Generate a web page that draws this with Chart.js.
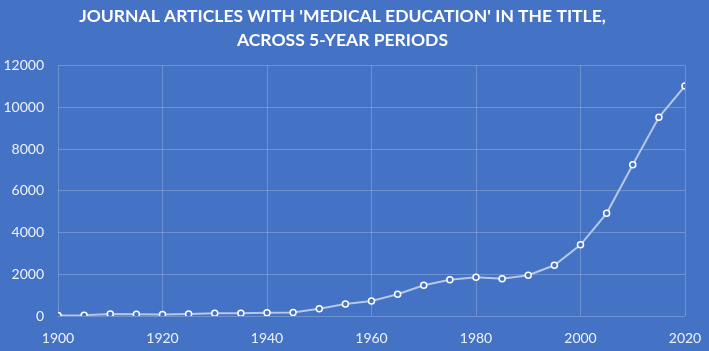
<!DOCTYPE html>
<html>
<head>
<meta charset="utf-8">
<script src="https://cdn.jsdelivr.net/npm/chart.js@4.4.1/dist/chart.umd.min.js"></script>
<style>
  html, body { margin: 0; padding: 0; background: #4472c4; }
  #wrap { width: 709px; height: 351px; }
</style>
</head>
<body>
<div id="wrap"><canvas id="chart" width="709" height="351"></canvas></div>
<script>
// years at 5-year steps and article counts
const years = [1900, 1905, 1910, 1915, 1920, 1925, 1930, 1935, 1940, 1945, 1950, 1955, 1960,
  1965, 1970, 1975, 1980, 1985, 1990, 1995, 2000, 2005, 2010, 2015, 2020];
const articles = [20, 40, 100, 80, 70, 90, 130, 130, 150, 170, 350, 570, 720,
  1040, 1470, 1740, 1860, 1780, 1950, 2430, 3410, 4920, 7250, 9520, 11020];
const titleLines = ["JOURNAL ARTICLES WITH 'MEDICAL EDUCATION' IN THE TITLE,", "ACROSS 5-YEAR PERIODS"];

const BG = "#4472c4";
const TEXT = "#eef2fa";
const GRID = "rgba(255,255,255,0.22)";

// fill the background of the canvas
const bgPlugin = {
  id: "bg",
  beforeDraw(chart) {
    const ctx = chart.ctx;
    ctx.save();
    ctx.fillStyle = BG;
    ctx.fillRect(0, 0, chart.width, chart.height);
    ctx.restore();
  }
};

new Chart(document.getElementById("chart"), {
  type: "line",
  data: {
    datasets: [{
      data: years.map((y, i) => ({ x: y, y: articles[i] })),
      borderColor: "#b4c7e7",
      borderWidth: 2,
      pointRadius: 3,
      pointBorderWidth: 1.5,
      pointBorderColor: "#ffffff",
      pointBackgroundColor: BG,
      tension: 0
    }]
  },
  options: {
    responsive: false,
    animation: false,
    layout: { padding: { left: 0, right: 24, top: 0, bottom: 0 } },
    plugins: {
      legend: { display: false },
      tooltip: { enabled: false },
      title: {
        display: true,
        text: titleLines,
        color: "#ffffff",
        font: { family: "Lato", size: 17.5, weight: "bold", lineHeight: 1.33 },
        padding: { top: 5, bottom: 14 }
      }
    },
    scales: {
      x: {
        type: "linear",
        min: 1900,
        max: 2020,
        ticks: { stepSize: 20, color: TEXT, font: { family: "Lato", size: 14 }, padding: 14,
          callback: v => String(v) },
        grid: { color: GRID, drawTicks: false },
        border: { display: false },
        afterFit: s => { s.height = 35; s.paddingRight = 0; s.paddingLeft = 0; }
      },
      y: {
        min: 0,
        max: 12000,
        ticks: { stepSize: 2000, color: TEXT, font: { family: "Lato", size: 14 }, padding: 14,
          callback: v => String(v) },
        grid: { color: GRID, drawTicks: false },
        border: { display: false },
        afterFit: s => { s.width = 58; }
      }
    }
  },
  plugins: [bgPlugin]
});
</script>
</body>
</html>
